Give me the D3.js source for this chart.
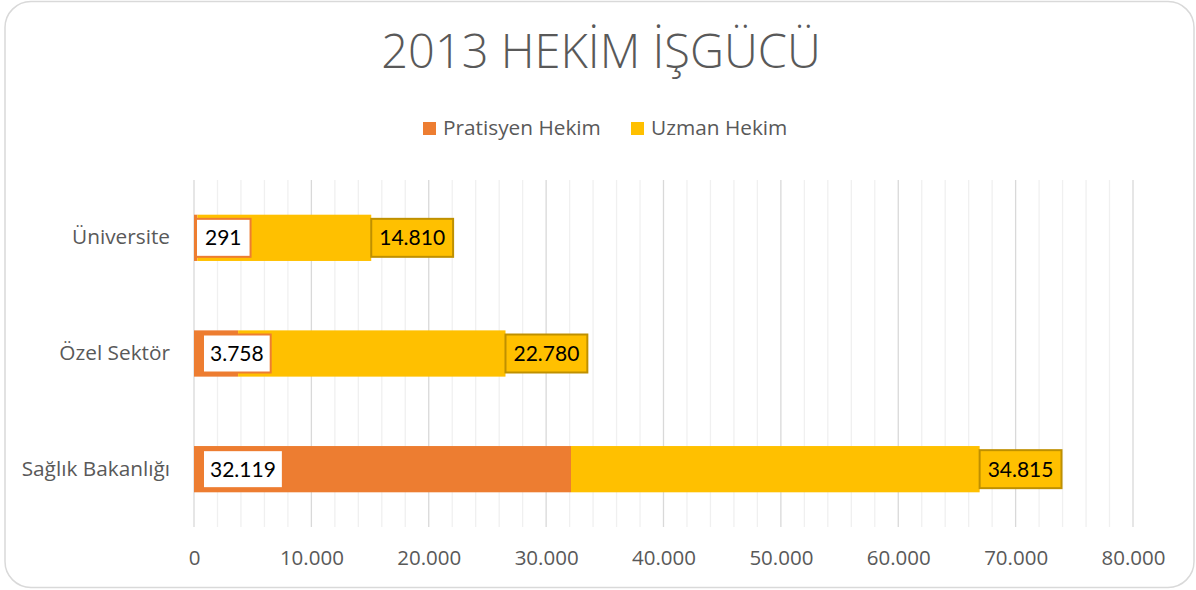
<!DOCTYPE html>
<html>
<head>
<meta charset="utf-8">
<script src="https://cdn.jsdelivr.net/npm/d3@7"></script>
<style>
  body { margin: 0; background: #fff; }
  svg { display: block; }
</style>
</head>
<body>
<div id="chart"></div>
<script>
// 2013 hekim isgucu - stacked horizontal bars
const WIDTH = 1196;
const HEIGHT = 590;
const MARGINS = {left: 194, right: 63, top: 180, bottom: 63};

const categories = ["Üniversite", "Özel Sektör", "Sağlık Bakanlığı"];
const pratisyen = [291, 3758, 32119];
const uzman = [14810, 22780, 34815];
const seriesNames = ["Pratisyen Hekim", "Uzman Hekim"];
const xTicks = [0, 10000, 20000, 30000, 40000, 50000, 60000, 70000, 80000];

const COLORS = ["#ED7D31", "#FFC000"];
const TEXT = "#595959";

const VIS_WIDTH = WIDTH - MARGINS.left - MARGINS.right;
const VIS_HEIGHT = HEIGHT - MARGINS.top - MARGINS.bottom;

const rows = categories.map((c, i) => ({cat: c, p: pratisyen[i], u: uzman[i]}));

const svg = d3.select("#chart")
  .append("svg")
  .attr("width", WIDTH)
  .attr("height", HEIGHT);

// outer frame
svg.append("rect")
  .attr("x", 5).attr("y", 1.5)
  .attr("width", 1189).attr("height", 586)
  .attr("rx", 26).attr("ry", 26)
  .attr("fill", "#fff")
  .attr("stroke", "#d9d9d9")
  .attr("stroke-width", 1.5);

// title
svg.append("text")
  .attr("x", 601).attr("y", 68)
  .attr("text-anchor", "middle")
  .attr("font-family", "'Open Sans', sans-serif")
  .attr("font-weight", 300)
  .attr("font-size", 47)
  .attr("fill", TEXT)
  .text("2013 HEKİM İŞGÜCÜ");

// legend
const legendX = [423, 631];
seriesNames.forEach((name, i) => {
  const g = svg.append("g").attr("transform", "translate(" + legendX[i] + ",122)");
  g.append("rect").attr("width", 13).attr("height", 13).attr("fill", COLORS[i]);
  g.append("text")
    .attr("x", 20).attr("y", 13)
    .attr("font-family", "'Open Sans', sans-serif")
    .attr("font-size", 20.8)
    .attr("fill", TEXT)
    .text(name);
});

const X_SCALE = d3.scaleLinear().domain([0, 80000]).range([0, VIS_WIDTH]);
const Y_SCALE = d3.scaleBand().domain(categories).range([0, VIS_HEIGHT]).paddingInner(0.6).paddingOuter(0.3);

const plot = svg.append("g")
  .attr("transform", "translate(" + MARGINS.left + "," + MARGINS.top + ")");

// minor gridlines every 2000
plot.selectAll(".minor")
  .data(d3.range(2000, 80001, 2000).filter(v => v % 10000 !== 0))
  .enter()
  .append("line")
    .attr("x1", d => X_SCALE(d)).attr("x2", d => X_SCALE(d))
    .attr("y1", 0).attr("y2", VIS_HEIGHT)
    .attr("stroke", "#f0f0f0")
    .attr("stroke-width", 1.3);

// major gridlines
plot.selectAll(".major")
  .data(xTicks)
  .enter()
  .append("line")
    .attr("x1", d => X_SCALE(d)).attr("x2", d => X_SCALE(d))
    .attr("y1", 0).attr("y2", VIS_HEIGHT)
    .attr("stroke", "#d9d9d9")
    .attr("stroke-width", 1.3);

// x axis labels
const xAxis = plot.append("g")
  .attr("transform", "translate(0," + VIS_HEIGHT + ")")
  .call(d3.axisBottom(X_SCALE)
    .tickValues(xTicks)
    .tickSize(0)
    .tickPadding(23)
    .tickFormat(d => d3.format(",")(d).replace(/,/g, ".")));
xAxis.select(".domain").remove();
xAxis.selectAll("text")
  .attr("font-family", "'Open Sans', sans-serif")
  .attr("font-size", 20.5)
  .attr("fill", TEXT);

// y axis labels
const yAxis = plot.append("g")
  .call(d3.axisLeft(Y_SCALE).tickSize(0).tickPadding(24));
yAxis.select(".domain").remove();
yAxis.selectAll("text")
  .attr("font-family", "'Open Sans', sans-serif")
  .attr("font-size", 20.8)
  .attr("fill", TEXT);

// bars
plot.selectAll(".barP")
  .data(rows)
  .enter()
  .append("rect")
    .attr("x", X_SCALE(0))
    .attr("y", d => Y_SCALE(d.cat))
    .attr("width", d => X_SCALE(d.p) - X_SCALE(0))
    .attr("height", Y_SCALE.bandwidth())
    .attr("fill", COLORS[0]);

plot.selectAll(".barU")
  .data(rows)
  .enter()
  .append("rect")
    .attr("x", d => X_SCALE(d.p))
    .attr("y", d => Y_SCALE(d.cat))
    .attr("width", d => X_SCALE(d.p + d.u) - X_SCALE(d.p))
    .attr("height", Y_SCALE.bandwidth())
    .attr("fill", COLORS[1]);

// data labels
const fmt = v => d3.format(",")(v).replace(/,/g, ".");
const LABEL_FONT = "Lato, 'Open Sans', sans-serif";
const BOX_H = 38;

function addLabel(x, cy, txt, fill, stroke, padL) {
  const g = plot.append("g");
  const t = g.append("text")
    .attr("x", x + padL).attr("y", cy + 7.5)
    .attr("font-family", LABEL_FONT)
    .attr("font-size", 21)
    .attr("fill", "#000")
    .text(txt);
  const w = t.node().getComputedTextLength();
  g.insert("rect", "text")
    .attr("x", x).attr("y", cy - BOX_H / 2)
    .attr("width", w + padL * 2).attr("height", BOX_H)
    .attr("fill", fill)
    .attr("stroke", stroke)
    .attr("stroke-width", 2);
}

rows.forEach(d => {
  const cy = Y_SCALE(d.cat) + Y_SCALE.bandwidth() / 2;
  addLabel(X_SCALE(0) + (d.p < 1000 ? 2 : 9), cy, fmt(d.p), "#fff", COLORS[0], d.p < 1000 ? 9 : 7);
  addLabel(X_SCALE(d.p + d.u), cy, fmt(d.u), COLORS[1], "#BF9000", 8);
});
</script>
</body>
</html>
